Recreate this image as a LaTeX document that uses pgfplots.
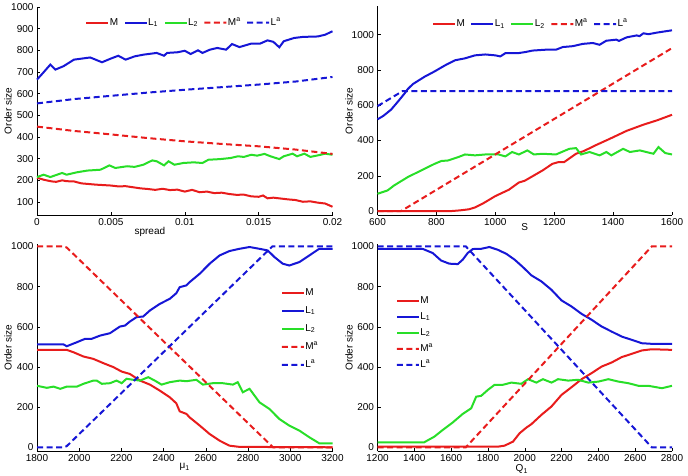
\documentclass[border=0pt]{standalone}
\usepackage{fontspec}
\setmainfont{Liberation Sans}
\usepackage{pgfplots}
\pgfplotsset{compat=1.18}
\definecolor{mred}{RGB}{232,28,28}
\definecolor{mblue}{RGB}{22,22,214}
\definecolor{mgreen}{RGB}{40,222,40}
\pgfplotsset{
  panel/.style={
    scale only axis, anchor=south west,
    axis x line*=bottom, axis y line*=left,
    axis line style={black, line width=0.6pt, -},
    tick align=inside, major tick length=3pt,
    tick style={black, line width=0.5pt},
    every tick label/.append style={font=\fontsize{10}{12}\selectfont},
    xticklabel style={inner sep=1.5pt, yshift=-1.8pt},
    label style={font=\fontsize{10}{12}\selectfont, inner sep=1pt},
    /pgf/number format/assume math mode=true,
    /pgf/number format/1000 sep={},
    scaled ticks=false,
    ylabel={Order size},
    clip=false,
    legend style={draw=none, fill=none, inner sep=0pt,
      font=\fontsize{10}{12}\selectfont,
      nodes={inner sep=1.5pt, text height=7.5pt, text depth=2.5pt}},
  },
  hleg/.style={legend columns=-1,
    legend style={/tikz/every even column/.append style={column sep=5pt}}},
  vleg/.style={legend cell align=left},
  solidimg/.style={legend image code/.code={%
    \fill[##1, draw=none] (0pt,-1pt) rectangle (22pt,1pt);}},
  dashimg/.style={legend image code/.code={%
    \fill[##1, draw=none] (0pt,-1pt) rectangle (6pt,1pt)
      (9.5pt,-1pt) rectangle (15.5pt,1pt)
      (19pt,-1pt) rectangle (22pt,1pt);}},
  sM/.style={color=mred, line width=2pt, solidimg},
  sL1/.style={color=mblue, line width=2pt, solidimg},
  sL2/.style={color=mgreen, line width=2pt, solidimg},
  sMa/.style={color=mred, line width=2pt, dash pattern=on 6pt off 3.5pt, dashimg},
  sLa/.style={color=mblue, line width=2pt, dash pattern=on 6pt off 3.5pt, dashimg},
}
\begin{document}
\begin{tikzpicture}
\path[use as bounding box] (0,0) rectangle (688pt,476pt);
% ---------------- Panel 1 ----------------
\begin{axis}[panel, hleg, at={(37pt,261pt)}, width=295.5pt, height=208pt,
  xmin=0, xmax=0.02, ymin=40, ymax=1000,
  xtick={0,0.005,0.01,0.015,0.02}, xticklabels={0,0.005,0.01,0.015,0.02},
  ytick={100,200,...,1000},
  xlabel={spread},
  xlabel style={at={(axis description cs:0.382,-0.080)}, anchor=center},
  ylabel style={at={(axis description cs:-0.098,0.5)}, anchor=center},
  legend style={at={(axis description cs:0.166,0.9245)}, anchor=west}]
\addplot[sM] coordinates {(0,212) (0.0005,202) (0.001,195) (0.0013,193) (0.0017,200) (0.002,196) (0.0025,195) (0.003,186) (0.0035,183) (0.004,180) (0.0045,178) (0.005,176) (0.0055,172) (0.006,173) (0.0065,168) (0.007,163) (0.0075,160) (0.008,156) (0.0085,161) (0.009,155) (0.0095,157) (0.01,148) (0.0105,156) (0.011,145) (0.0115,148) (0.012,141) (0.0125,143) (0.013,137) (0.0135,133) (0.014,134) (0.0145,126) (0.015,124) (0.0153,130) (0.0156,117) (0.016,120) (0.0165,116) (0.017,112) (0.0175,109) (0.018,101) (0.0185,103) (0.019,97) (0.0195,93) (0.02,78)};
\addlegendentry{M}
\addplot[sL1] coordinates {(0,665) (0.0004,695) (0.0009,734) (0.00124,711) (0.0018,727) (0.0025,757) (0.0036,767) (0.0044,745) (0.005,762) (0.0055,775) (0.006,757) (0.0066,772) (0.0072,780) (0.0081,788) (0.0086,775) (0.0088,788) (0.0095,791) (0.01,798) (0.0104,783) (0.0109,800) (0.0112,788) (0.0117,803) (0.0122,811) (0.0128,803) (0.0132,829) (0.0137,815) (0.0145,831) (0.0151,831) (0.0156,846) (0.016,839) (0.0164,814) (0.0167,842) (0.0174,857) (0.018,862) (0.019,864) (0.0195,872) (0.02,888)};
\addlegendentry{L\textsubscript{1}}
\addplot[sL2] coordinates {(0,215) (0.00045,226) (0.0009,215) (0.00136,226) (0.0017,234) (0.002,226) (0.0027,237) (0.0034,245) (0.0043,249) (0.0049,269) (0.0053,257) (0.0061,265) (0.0066,262) (0.0072,272) (0.0078,292) (0.0081,288) (0.0086,269) (0.0089,288) (0.0093,272) (0.0099,280) (0.0106,283) (0.0112,280) (0.0116,295) (0.0124,298) (0.0131,303) (0.0136,311) (0.014,308) (0.0145,318) (0.0149,314) (0.0154,322) (0.0158,311) (0.0164,298) (0.0167,311) (0.0173,323) (0.0176,311) (0.0181,323) (0.0185,308) (0.0192,318) (0.0195,323) (0.02,318)};
\addlegendentry{L\textsubscript{2}}
\addplot[sMa] coordinates {(0,448) (0.0025,428) (0.005,412) (0.0075,395) (0.01,380) (0.0125,368) (0.015,357) (0.0175,342) (0.02,322)};
\addlegendentry{M\textsuperscript{a}}
\addplot[sLa] coordinates {(0,555) (0.0025,575) (0.005,590) (0.0075,605) (0.01,618) (0.0125,630) (0.015,642) (0.0175,656) (0.02,677)};
\addlegendentry{L\textsuperscript{a}}
\end{axis}
% ---------------- Panel 2 ----------------
\begin{axis}[panel, hleg, at={(377.5pt,260.5pt)}, width=294.5pt, height=209pt,
  xmin=600, xmax=1600, ymin=-25, ymax=1160,
  xtick={600,800,...,1600}, ytick={0,200,...,1000},
  xlabel={S},
  xlabel style={at={(axis description cs:0.5,-0.056)}, anchor=center},
  ylabel style={at={(axis description cs:-0.097,0.5)}, anchor=center},
  legend style={at={(axis description cs:0.188,0.916)}, anchor=west}]
\addplot[sM] coordinates {(600,0) (850,0) (880,4) (910,10) (930,20) (960,45) (980,65) (1000,85) (1046,121) (1080,162) (1100,172) (1160,230) (1194,268) (1215,278) (1234,278) (1274,325) (1300,340) (1343,375) (1389,410) (1446,455) (1503,490) (1550,515) (1600,546)};
\addlegendentry{M}
\addplot[sL1] coordinates {(600,520) (620,540) (646,575) (669,620) (691,665) (703,692) (720,720) (760,762) (794,792) (829,826) (863,855) (897,866) (931,883) (966,888) (1000,883) (1017,877) (1034,895) (1080,896) (1103,902) (1126,910) (1171,915) (1206,915) (1229,930) (1263,935) (1297,948) (1331,953) (1354,943) (1377,966) (1411,972) (1420,965) (1446,985) (1480,996) (1490,992) (1503,1008) (1520,1003) (1549,1012) (1600,1025)};
\addlegendentry{L\textsubscript{1}}
\addplot[sL2] coordinates {(600,98) (634,117) (657,146) (703,193) (749,231) (794,268) (817,284) (840,287) (874,306) (897,321) (931,316) (966,321) (1011,321) (1034,310) (1057,335) (1080,321) (1109,344) (1131,321) (1160,325) (1206,321) (1251,353) (1274,357) (1291,321) (1320,335) (1354,316) (1377,335) (1394,316) (1434,353) (1457,335) (1491,344) (1537,325) (1554,363) (1577,329) (1600,321)};
\addlegendentry{L\textsubscript{2}}
\addplot[sMa] coordinates {(600,0) (680,0) (1600,924)};
\addlegendentry{M\textsuperscript{a}}
\addplot[sLa] coordinates {(600,595) (685,680) (1600,680)};
\addlegendentry{L\textsuperscript{a}}
\end{axis}
% ---------------- Panel 3 ----------------
\begin{axis}[panel, vleg, at={(37pt,24.7pt)}, width=295.5pt, height=207.3pt,
  xmin=1800, xmax=3200, ymin=-20, ymax=1012,
  xtick={1800,2000,...,3200}, ytick={0,200,...,1000},
  xlabel={μ\textsubscript{1}},
  xlabel style={at={(axis description cs:0.5,-0.075)}, anchor=center},
  ylabel style={at={(axis description cs:-0.098,0.5)}, anchor=center},
  legend style={row sep=5pt, at={(axis description cs:0.828,0.797)}, anchor=north west}]
\addplot[sM] coordinates {(1800,485) (1941,485) (1973,473) (2020,452) (2067,440) (2114,419) (2162,399) (2201,377) (2240,365) (2288,332) (2335,312) (2382,282) (2429,249) (2460,219) (2476,179) (2508,166) (2523,149) (2571,108) (2618,66) (2665,33) (2712,8) (2759,2) (3200,0)};
\addlegendentry{M}
\addplot[sL1] coordinates {(1800,512) (1926,512) (1941,503) (1989,523) (2028,540) (2059,540) (2099,556) (2146,568) (2193,601) (2217,606) (2240,626) (2272,648) (2303,651) (2335,681) (2382,714) (2429,739) (2460,767) (2476,797) (2508,806) (2523,822) (2571,864) (2618,914) (2665,955) (2712,977) (2759,988) (2807,997) (2854,988) (2893,980) (2925,947) (2964,914) (2995,905) (3043,922) (3090,955) (3137,988) (3200,988)};
\addlegendentry{L\textsubscript{1}}
\addplot[sL2] coordinates {(1800,306) (1847,296) (1878,302) (1910,291) (1941,302) (1989,302) (2020,316) (2067,332) (2083,332) (2107,316) (2146,319) (2177,332) (2201,319) (2224,341) (2256,336) (2288,332) (2327,349) (2358,332) (2390,312) (2429,324) (2476,332) (2508,329) (2555,336) (2586,312) (2633,319) (2680,319) (2728,312) (2751,324) (2775,274) (2807,291) (2854,224) (2901,191) (2948,141) (2995,108) (3043,83) (3090,50) (3137,20) (3200,20)};
\addlegendentry{L\textsubscript{2}}
\addplot[sMa] coordinates {(1800,1000) (1925,1000) (1940,995) (1955,980) (2918,0) (3200,0)};
\addlegendentry{M\textsuperscript{a}}
\addplot[sLa] coordinates {(1800,0) (1925,0) (1940,5) (1955,20) (2915,1000) (3200,1000)};
\addlegendentry{L\textsuperscript{a}}
\end{axis}
% ---------------- Panel 4 ----------------
\begin{axis}[panel, vleg, at={(377.5pt,24.7pt)}, width=294.5pt, height=207.3pt,
  xmin=1200, xmax=2800, ymin=-20, ymax=1012,
  xtick={1200,1400,...,2800}, ytick={0,200,...,1000},
  xlabel={Q\textsubscript{1}},
  xlabel style={at={(axis description cs:0.49,-0.087)}, anchor=center},
  ylabel style={at={(axis description cs:-0.097,0.5)}, anchor=center},
  legend style={row sep=3pt, at={(axis description cs:0.065,0.758)}, anchor=north west}]
\addplot[sM] coordinates {(1200,3) (1854,3) (1890,8) (1936,28) (1972,70) (2009,98) (2036,115) (2090,161) (2145,203) (2200,261) (2254,299) (2309,339) (2363,369) (2418,402) (2472,422) (2527,449) (2581,465) (2636,482) (2690,488) (2800,485)};
\addlegendentry{M}
\addplot[sL1] coordinates {(1200,988) (1445,988) (1500,967) (1545,930) (1590,914) (1636,912) (1663,934) (1690,967) (1718,987) (1763,988) (1808,997) (1854,983) (1900,963) (1945,934) (1990,897) (2036,856) (2090,826) (2145,784) (2200,731) (2254,701) (2309,664) (2363,635) (2418,601) (2472,576) (2527,551) (2581,535) (2636,518) (2690,515) (2800,515)};
\addlegendentry{L\textsubscript{1}}
\addplot[sL2] coordinates {(1200,25) (1454,25) (1509,53) (1554,86) (1608,123) (1663,166) (1709,194) (1736,252) (1763,256) (1800,286) (1836,311) (1881,311) (1927,322) (1981,316) (2018,339) (2063,322) (2099,339) (2145,322) (2181,339) (2236,332) (2290,336) (2345,322) (2400,327) (2454,339) (2509,327) (2563,319) (2618,306) (2672,306) (2745,294) (2800,306)};
\addlegendentry{L\textsubscript{2}}
\addplot[sMa] coordinates {(1200,0) (1680,0) (2690,1000) (2800,1000)};
\addlegendentry{M\textsuperscript{a}}
\addplot[sLa] coordinates {(1200,1000) (1680,1000) (2690,0) (2800,0)};
\addlegendentry{L\textsuperscript{a}}
\end{axis}
\end{tikzpicture}
\end{document}
